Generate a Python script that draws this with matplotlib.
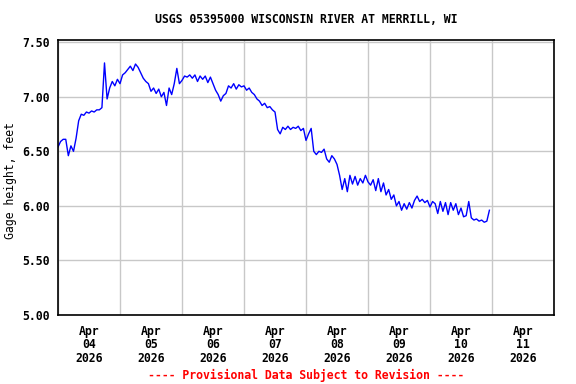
import matplotlib
matplotlib.use('Agg')
import matplotlib.pyplot as plt
import matplotlib.dates as mdates
import pandas as pd

# Gage height, hourly readings starting Apr 04 2026 00:00
start_time = '2026-04-04 00:00'
gage_height = [
    # Apr 04
    6.54, 6.59, 6.61, 6.61, 6.46, 6.55, 6.50, 6.62, 6.78, 6.84, 6.83, 6.86,
    6.85, 6.87, 6.86, 6.88, 6.88, 6.90, 7.31, 6.98, 7.08, 7.14, 7.10, 7.16,
    # Apr 05
    7.12, 7.20, 7.22, 7.25, 7.28, 7.24, 7.30, 7.27, 7.22, 7.17, 7.14, 7.12,
    7.05, 7.08, 7.03, 7.07, 7.00, 7.04, 6.92, 7.08, 7.02, 7.12, 7.26, 7.12,
    # Apr 06
    7.15, 7.19, 7.18, 7.20, 7.17, 7.20, 7.14, 7.19, 7.16, 7.19, 7.13, 7.18,
    7.12, 7.06, 7.02, 6.96, 7.01, 7.03, 7.10, 7.08, 7.12, 7.07, 7.11, 7.09,
    # Apr 07
    7.10, 7.06, 7.08, 7.04, 7.02, 6.98, 6.96, 6.92, 6.94, 6.90, 6.91, 6.88,
    6.86, 6.70, 6.66, 6.72, 6.70, 6.73, 6.70, 6.72, 6.71, 6.73, 6.69, 6.71,
    # Apr 08
    6.60, 6.66, 6.71, 6.50, 6.47, 6.50, 6.49, 6.52, 6.43, 6.40, 6.46, 6.43,
    6.38, 6.28, 6.15, 6.25, 6.13, 6.28, 6.20, 6.27, 6.19, 6.25, 6.21, 6.28,
    # Apr 09
    6.22, 6.19, 6.24, 6.14, 6.25, 6.13, 6.21, 6.10, 6.15, 6.06, 6.10, 6.00,
    6.04, 5.96, 6.02, 5.97, 6.03, 5.98, 6.05, 6.09, 6.04, 6.06, 6.03, 6.05,
    # Apr 10
    5.99, 6.04, 6.02, 5.93, 6.04, 5.95, 6.03, 5.92, 6.03, 5.96, 6.02, 5.92,
    5.98, 5.90, 5.91, 6.04, 5.89, 5.87, 5.88, 5.86, 5.87, 5.85, 5.86, 5.96,
]
y_ticks = [5.0, 5.5, 6.0, 6.5, 7.0, 7.5]

times = pd.date_range(start_time, periods=len(gage_height), freq='h')

FONT = 'DejaVu Sans Mono'
plt.rcParams['font.family'] = FONT
plt.rcParams['font.weight'] = 'bold'

fig = plt.figure(figsize=(5.76, 3.84), dpi=100)
ax = fig.add_axes([0.1007, 0.1797, 0.8611, 0.7161])

ax.plot(times, gage_height, color='#0000ff', linewidth=1.0)

ax.set_xlim(pd.Timestamp('2026-04-04'), pd.Timestamp('2026-04-12'))
ax.set_ylim(5.0, 7.52)

# gridlines at midnight, labels at noon
ax.xaxis.set_major_locator(mdates.DayLocator())
ax.xaxis.set_major_formatter(plt.NullFormatter())
ax.xaxis.set_minor_locator(mdates.HourLocator(byhour=12))
ax.xaxis.set_minor_formatter(mdates.DateFormatter('%b\n%d\n%Y'))
ax.set_yticks(y_ticks)
ax.set_yticklabels([f'{v:.2f}' for v in y_ticks])

ax.tick_params(axis='both', which='both', length=0, labelsize=8.3)
ax.tick_params(axis='x', which='minor', pad=7)
ax.tick_params(axis='y', pad=6)
for lbl in ax.xaxis.get_minorticklabels():
    lbl.set_linespacing(1.05)

ax.grid(True, which='major', color='#c8c8c8', linewidth=1.0)
ax.set_axisbelow(True)
for sp in ax.spines.values():
    sp.set_linewidth(1.2)
    sp.set_color('black')

ax.set_ylabel('Gage height, feet', fontsize=8.3)
ax.yaxis.set_label_coords(-0.083, 0.49)

fig.text(0.531, 0.950, 'USGS 05395000 WISCONSIN RIVER AT MERRILL, WI',
         ha='center', va='center', fontsize=8.3)
fig.text(0.531, 0.023, '---- Provisional Data Subject to Revision ----',
         ha='center', va='center', fontsize=8.3, color='#ff0000')

fig.savefig('out.png', dpi=100)
